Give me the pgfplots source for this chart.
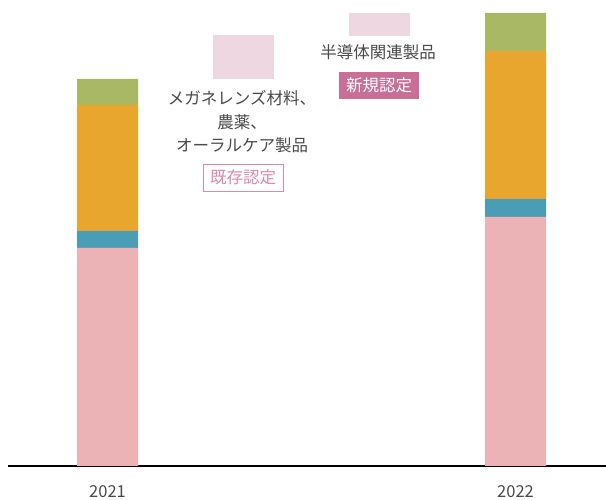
\documentclass[border=0pt]{standalone}
\usepackage{pgfplots}
\pgfplotsset{compat=1.18}
\usepackage{fontspec}
\setmainfont{Noto Sans CJK JP}
\definecolor{cpink}{HTML}{EBB3B5}
\definecolor{cblue}{HTML}{4A9DB5}
\definecolor{corange}{HTML}{E9A62E}
\definecolor{cgreen}{HTML}{A8B865}
\definecolor{cpale}{HTML}{EED7E1}
\definecolor{cmag}{HTML}{C96E96}
\definecolor{cline}{HTML}{E089B0}
\definecolor{ctext}{HTML}{4A4A4A}
\begin{document}
\begin{tikzpicture}
\useasboundingbox (0,0) rectangle (606pt,500pt);
\begin{axis}[
  at={(8pt,34pt)}, anchor=south west,
  scale only axis, width=598pt, height=466pt,
  xmin=8, xmax=606, ymin=0, ymax=466,
  ybar stacked, bar width=61pt,
  clip=false,
  axis y line=none,
  axis x line*=bottom,
  x axis line style={black, line width=1.3pt, -},
  xtick={107.5,515.5}, xticklabels={2021,2022},
  major tick length=0pt,
  xticklabel style={font=\fontsize{16.5}{16.5}\selectfont, text=ctext, yshift=-16pt},
  /pgf/number format/assume math mode=true,
]
\addplot[fill=cpink, draw=none] coordinates {(107.5,218) (515.5,249)};
\addplot[fill=cblue, draw=none] coordinates {(107.5,17) (515.5,18)};
\addplot[fill=corange, draw=none] coordinates {(107.5,126) (515.5,148)};
\addplot[fill=cgreen, draw=none] coordinates {(107.5,26) (515.5,38)};
\fill[cpale] (axis cs:213,387) rectangle (axis cs:274,431);
\fill[cpale] (axis cs:349,430) rectangle (axis cs:410,453);
\node[text=ctext, font=\fontsize{16.5}{16.5}\selectfont] at (axis cs:242,368) {メガネレンズ材料、};
\node[text=ctext, font=\fontsize{16.5}{16.5}\selectfont] at (axis cs:242,344) {農薬、};
\node[text=ctext, font=\fontsize{16.5}{16.5}\selectfont] at (axis cs:242,321) {オーラルケア製品};
\node[draw=cline, line width=0.8pt, text=cline, minimum width=80pt, minimum height=27pt, inner sep=0pt, font=\fontsize{16.5}{16.5}\selectfont] at (axis cs:243,288.5) {既存認定};
\node[text=ctext, font=\fontsize{16.5}{16.5}\selectfont] at (axis cs:378,414) {半導体関連製品};
\node[fill=cmag, text=white, minimum width=80pt, minimum height=27pt, inner sep=0pt, font=\fontsize{16.5}{16.5}\selectfont] at (axis cs:379,380.5) {新規認定};
\end{axis}
\end{tikzpicture}
\end{document}
